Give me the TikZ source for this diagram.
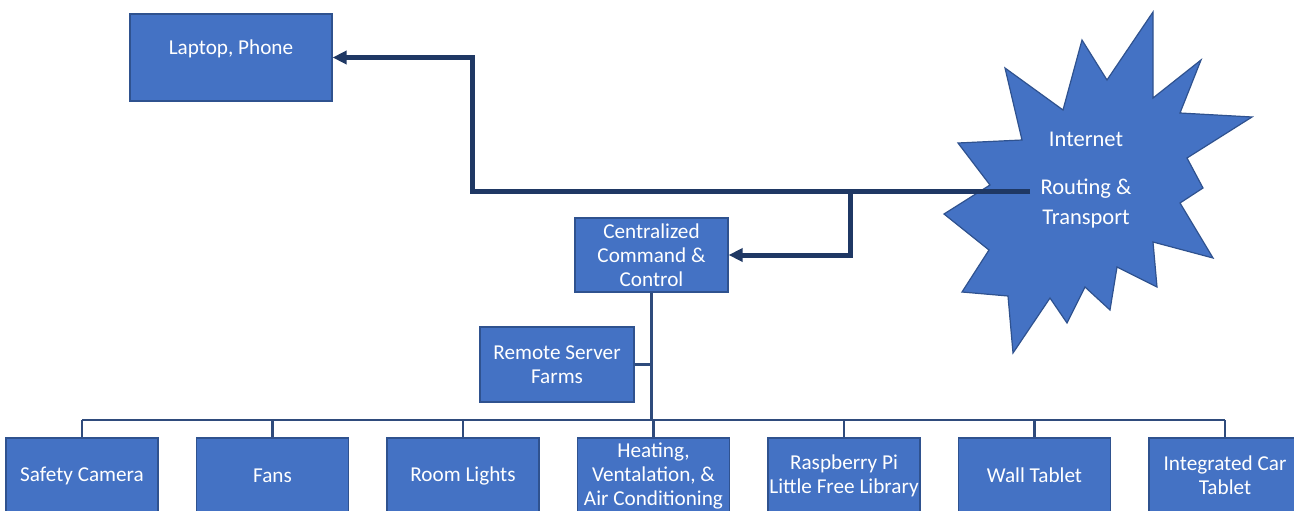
\documentclass[tikz,border=0pt]{standalone}
\usepackage{fontspec}
\setmainfont{Carlito}
\usepackage{xcolor}
\usepackage{tikz}
\usetikzlibrary{arrows.meta,positioning}
\definecolor{iotblue}{HTML}{4472C4}
\definecolor{iotedge}{HTML}{2F528F}
\definecolor{iotnavy}{HTML}{1F3864}
\definecolor{iotline}{HTML}{2F4B7C}
\tikzset{
  unit/.style={rectangle,draw=iotedge,line width=1.2pt,fill=iotblue,text=white,align=center,minimum width=152pt,minimum height=75pt,inner xsep=0pt,inner ysep=0pt,font=\fontsize{21.2}{24}\selectfont},
  burst/.style={draw=iotedge,line width=1.2pt,fill=iotblue},
  uplink/.style={-{Triangle[length=14pt,width=13pt]},line width=5pt,draw=iotnavy},
  branch/.style={line width=2.7pt,draw=iotline}
}

\begin{document}
\begin{tikzpicture}[x=1pt,y=-1pt,node distance=37.3pt]
\useasboundingbox (0,0) rectangle (1294,511);
% top
\node[unit,minimum width=202pt,minimum height=87pt,text height=15pt,text depth=21pt] (laptop) at (231,57.5) {Laptop, Phone};
\node[unit,minimum width=153pt,minimum height=74pt] (ccc) at (651.5,255) {Centralized\\Command \&\\Control};
\node[unit,minimum width=154pt] (farms) at (557,364.5) {Remote Server\\Farms};
% devices
\node[unit] (cam) at (82,475.5) {Safety Camera};
\node[unit,right=of cam] (fans) {Fans};
\node[unit,right=of fans] (lights) {Room Lights};
\node[unit,right=of lights] (hvac) {Heating,\\Ventalation, \&\\Air Conditioning};
\node[unit,right=of hvac] (rpi) {Raspberry Pi\\Little Free Library};
\node[unit,right=of rpi] (wall) {Wall Tablet};
\node[unit,right=of wall] (car) {Integrated Car\\Tablet};
% internet burst
\draw[burst] (1153,12) -- (1153,98) -- (1201,60) -- (1180,113) -- (1252,117) -- (1187,158)
  -- (1203,188) -- (1180,203) -- (1213,258) -- (1153,242) -- (1157,287) -- (1117,267)
  -- (1110,310) -- (1085,287) -- (1067,323) -- (1050,298) -- (1013,353) -- (1008,296)
  -- (962,292) -- (989,250) -- (944,214) -- (990,185) -- (958,143) -- (1022,140)
  -- (1005,68) -- (1063,110) -- (1082,40) -- (1107,80) -- cycle;
\node[text=white,align=center,inner sep=0pt,font=\fontsize{22.5}{30}\selectfont] (inet) at (1086,180.5) {Internet\\[18pt]Routing \&\\Transport};
\coordinate (inetin) at (1030,191);
\coordinate (bend) at (472,191);
\coordinate (split) at (850,191);
\coordinate (bus) at (0,420);
% links
\draw[uplink] (inetin) -- (bend) |- (laptop.east);
\draw[uplink] (split) |- (ccc.east);
\draw[branch] (ccc.south) -- (ccc.south |- bus);
\draw[branch] (farms.east) -- (farms.east -| ccc.south);
\draw[branch] (cam.north |- bus) -- (car.north |- bus);
\draw[branch] (cam.north) -- (cam.north |- bus);
\draw[branch] (fans.north) -- (fans.north |- bus);
\draw[branch] (lights.north) -- (lights.north |- bus);
\draw[branch] (hvac.north) -- (hvac.north |- bus);
\draw[branch] (rpi.north) -- (rpi.north |- bus);
\draw[branch] (wall.north) -- (wall.north |- bus);
\draw[branch] (car.north) -- (car.north |- bus);
\end{tikzpicture}
\end{document}
